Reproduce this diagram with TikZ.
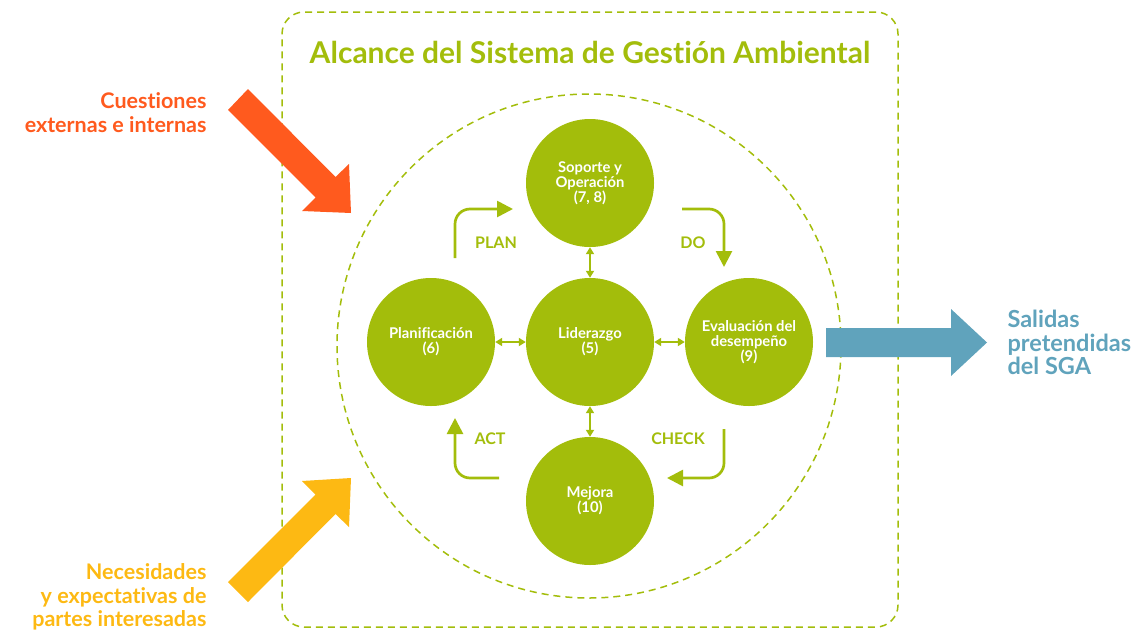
\documentclass[tikz,border=0pt]{standalone}
\usepackage{fontspec}
\setmainfont{Lato}[Ligatures=NoCommon]
\usetikzlibrary{arrows.meta}
\definecolor{sgagreen}{HTML}{A3BD0B}
\definecolor{sgaorange}{HTML}{FF5A1E}
\definecolor{sgayellow}{HTML}{FDB913}
\definecolor{sgablue}{HTML}{60A3BC}
\tikzset{
  phase/.style={circle, fill=sgagreen, minimum size=128pt, inner sep=0pt, text=white,
    font=\bfseries\fontsize{14.8}{15}\selectfont, align=center},
  border/.style={draw=sgagreen, line width=1.5pt, dash pattern=on 7pt off 5pt},
  link/.style={draw=sgagreen, line width=1.8pt, {Triangle[width=8pt,length=7pt]}-{Triangle[width=8pt,length=7pt]}},
  cyc/.style={draw=sgagreen, line width=2.7pt, rounded corners=15pt, -{Triangle[width=16pt,length=16pt]}},
  cyclabel/.style={text=sgagreen, font=\bfseries\fontsize{16}{18}\selectfont},
  sidelabel/.style={font=\bfseries\fontsize{21.5}{23.5}\selectfont}
}
\begin{document}
\begin{tikzpicture}[x=1pt,y=-1pt]
\useasboundingbox (0,0) rectangle (1137,632);
% scope frame
\node[border, rounded corners=22pt, minimum width=616pt, minimum height=615pt, inner sep=0pt] (frame) at (590,319.5) {};
\node[text=sgagreen, font=\bfseries\fontsize{30}{32}\selectfont] (title) at (590,52) {Alcance del Sistema de Gestión Ambiental};
\node[border, circle, minimum size=504pt, inner sep=0pt] (ring) at (589,346) {};
% phases
\node[phase] (top) at (590,183) {Soporte y\\Operación\\(7, 8)};
\node[phase] (mid) at (590,342) {Liderazgo\\(5)};
\node[phase] (left) at (431,342) {Planificación\\(6)};
\node[phase] (right) at (749,342) {Evaluación del\\desempeño\\(9)};
\node[phase] (bot) at (590,501) {Mejora\\(10)};
% links
\draw[link] (top) -- (mid);
\draw[link] (mid) -- (bot);
\draw[link] (left) -- (mid);
\draw[link] (mid) -- (right);
% PDCA arrows
\coordinate (plan0) at (455,258);
\coordinate (plan1) at (513,209);
\coordinate (do0) at (682,209);
\coordinate (do1) at (724,267);
\coordinate (check0) at (724,429);
\coordinate (check1) at (667,478);
\coordinate (act0) at (499,478);
\coordinate (act1) at (455,418);
\draw[cyc] (plan0) |- (plan1);
\draw[cyc] (do0) -| (do1);
\draw[cyc] (check0) |- (check1);
\draw[cyc] (act0) -| (act1);
\node[cyclabel] (planlbl) at (496,243) {PLAN};
\node[cyclabel] (dolbl) at (693,243) {DO};
\node[cyclabel] (actlbl) at (490,439) {ACT};
\node[cyclabel] (checklbl) at (678,439) {CHECK};
% big arrows
\fill[sgaorange] (248,89) -- (335.5,177) -- (349,164) -- (351,213) -- (302,211) -- (315.5,197.5) -- (228,110) -- cycle;
\fill[sgayellow] (228,582) -- (315.5,494.5) -- (302,481) -- (351,478) -- (349,527) -- (335.5,514) -- (248,602) -- cycle;
\fill[sgablue] (826,328) -- (951,328) -- (951,309) -- (987,342.5) -- (951,376) -- (951,357) -- (826,357) -- cycle;
% side labels
\node[sidelabel, text=sgaorange, align=right, anchor=east] (ext) at (210,112.5) {Cuestiones\\externas e internas};
\node[sidelabel, text=sgayellow, align=right, anchor=east] (needs) at (210,597) {Necesidades\\y expectativas de\\partes interesadas};
\node[sidelabel, text=sgablue, align=left, anchor=west, font=\bfseries\fontsize{23.5}{23.5}\selectfont] (out) at (1004,342.5) {Salidas\\pretendidas\\del SGA};
\end{tikzpicture}
\end{document}
